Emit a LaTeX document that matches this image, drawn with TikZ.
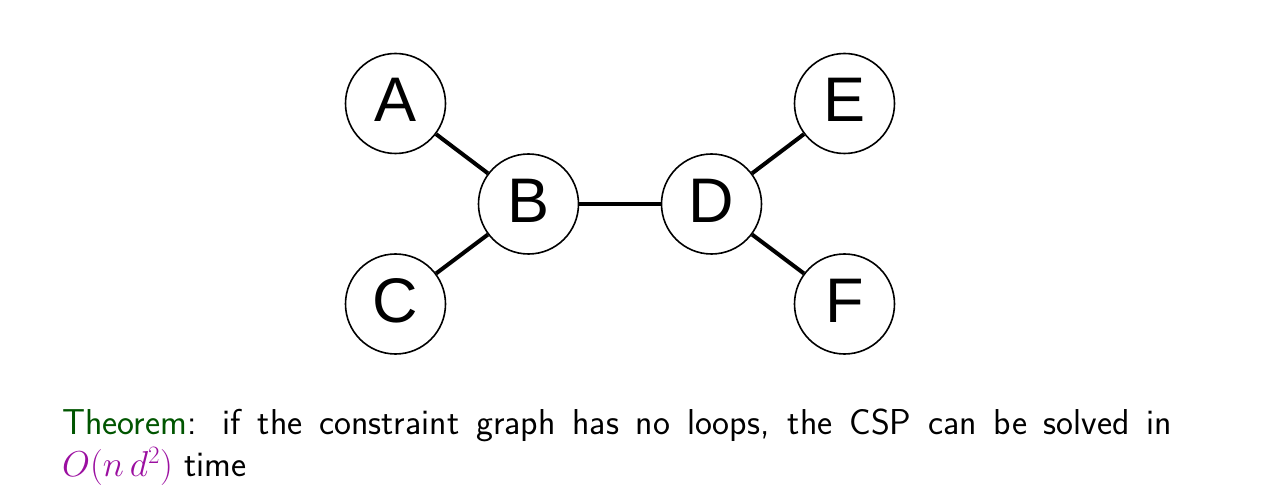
\RequirePackage{fix-cm}
\documentclass[tikz,border=0pt]{standalone}
\usepackage{fontspec}
\newfontfamily\nodefont{Liberation Sans}
\DeclareMathSizes{36}{36}{25}{18}
\definecolor{thmgreen}{RGB}{0,85,0}
\definecolor{mathpurple}{RGB}{155,15,160}
\begin{document}
\begin{tikzpicture}[x=1pt,y=-1pt,
  vertex/.style={circle,draw,line width=1.6pt,minimum size=100pt,inner sep=0pt,
    font=\nodefont\fontsize{63}{63}\selectfont,text height=45pt,text depth=8pt},
  edge/.style={line width=4pt},
  textline/.style={anchor=base west,inner sep=0pt,font=\sffamily\fontsize{36}{44}\selectfont}]
\useasboundingbox (0,0) rectangle (1274,494);
\node[vertex] (A) at (395.5,103.5) {A};
\node[vertex] (B) at (528.5,204) {B};
\node[vertex] (C) at (395.5,304) {C};
\node[vertex] (D) at (711.5,204) {D};
\node[vertex] (E) at (844.5,103.5) {E};
\node[vertex] (F) at (844.5,304) {F};
\draw[edge] (A) -- (B);
\draw[edge] (C) -- (B);
\draw[edge] (B) -- (D);
\draw[edge] (D) -- (E);
\draw[edge] (D) -- (F);
\node[textline] (l1) at (62,434.5) {\makebox[1110pt][s]{\textcolor{thmgreen}{Theorem}: if the constraint graph has no loops, the CSP can be solved in}};
\node[textline] (l2) at (62,476.5) {\fontsize{36}{44}\selectfont\textcolor{mathpurple}{$O(n\,d^2)$} time};
\end{tikzpicture}
\end{document}
